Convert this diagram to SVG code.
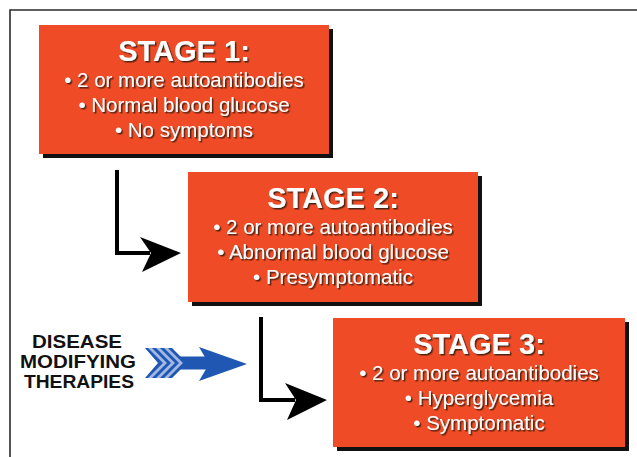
<svg xmlns="http://www.w3.org/2000/svg" width="637" height="457" viewBox="0 0 637 457">
<defs>
<style>
.frame{fill:none;stroke:#2a2a2a;stroke-width:1.6}
.box{fill:#EE4B26}
.shadow{fill:#111}
.title{font-family:"Liberation Sans",Arial,sans-serif;font-weight:bold;font-size:29px;fill:#fff;text-anchor:middle}
.item{font-family:"Liberation Sans",Arial,sans-serif;font-size:20.5px;fill:#fff;text-anchor:middle}
.label{font-family:"Liberation Sans",Arial,sans-serif;font-weight:bold;font-size:17.5px;fill:#111;text-anchor:middle}
.conn{fill:none;stroke:#000;stroke-width:4;stroke-linejoin:miter}
.head{fill:#000}
.txt{filter:url(#ts)}
</style>
<filter id="ts" x="-10%" y="-30%" width="120%" height="160%">
<feDropShadow dx="1.5" dy="1.5" stdDeviation="0.7" flood-color="#3a1a10" flood-opacity="0.9"/>
</filter>
<clipPath id="fl">
<polygon points="145,348 172,348 187,363 172,378 145,378 158,363"/>
</clipPath>
</defs>
<path class="frame" d="M10,457 V10 H637"/>

<g id="stage1">
<rect class="shadow" x="43" y="29" width="290" height="129"/>
<rect class="box" x="39" y="25" width="290" height="129"/>
<g class="txt">
<text class="title" x="184" y="61">STAGE 1:</text>
<text class="item" x="184" y="87">• 2 or more autoantibodies</text>
<text class="item" x="184" y="112">• Normal blood glucose</text>
<text class="item" x="184" y="137">• No symptoms</text>
</g>
</g>

<g id="stage2">
<rect class="shadow" x="192" y="176" width="290" height="130"/>
<rect class="box" x="188" y="172" width="290" height="130"/>
<g class="txt">
<text class="title" x="333" y="208">STAGE 2:</text>
<text class="item" x="333" y="234">• 2 or more autoantibodies</text>
<text class="item" x="333" y="259">• Abnormal blood glucose</text>
<text class="item" x="333" y="284">• Presymptomatic</text>
</g>
</g>

<g id="stage3">
<rect class="shadow" x="337" y="322" width="292" height="129"/>
<rect class="box" x="333" y="318" width="292" height="129"/>
<g class="txt">
<text class="title" x="479" y="354">STAGE 3:</text>
<text class="item" x="479" y="380">• 2 or more autoantibodies</text>
<text class="item" x="479" y="405">• Hyperglycemia</text>
<text class="item" x="479" y="430">• Symptomatic</text>
</g>
</g>

<g id="therapies">
<text class="label" x="77" y="348" textLength="90" lengthAdjust="spacingAndGlyphs">DISEASE</text>
<text class="label" x="78" y="368" textLength="116" lengthAdjust="spacingAndGlyphs">MODIFYING</text>
<text class="label" x="79" y="388" textLength="110" lengthAdjust="spacingAndGlyphs">THERAPIES</text>
<g id="blue-arrow">
<rect x="180" y="356.5" width="30" height="13" fill="#1f57b3"/>
<polygon points="145,348 172,348 187,363 172,378 145,378 158,363" fill="#1f57b3"/>
<g clip-path="url(#fl)" fill="none" stroke="#a3b9e4" stroke-width="2.8">
<polyline points="148,346 165,363 148,380"/>
<polyline points="156,346 173,363 156,380"/>
<polyline points="164,346 181,363 164,380"/>
</g>
<polygon points="199,347 247,364 199,381 209,364" fill="#1f57b3"/>
</g>
</g>

<g id="connectors">
<path class="conn" d="M117,170 V253 H150"/>
<polygon class="head" points="140,237 181,253 142,272 151,253"/>
<path class="conn" d="M261,317 V400 H295"/>
<polygon class="head" points="285,383 327,400 287,420 296,400"/>
</g>
</svg>
